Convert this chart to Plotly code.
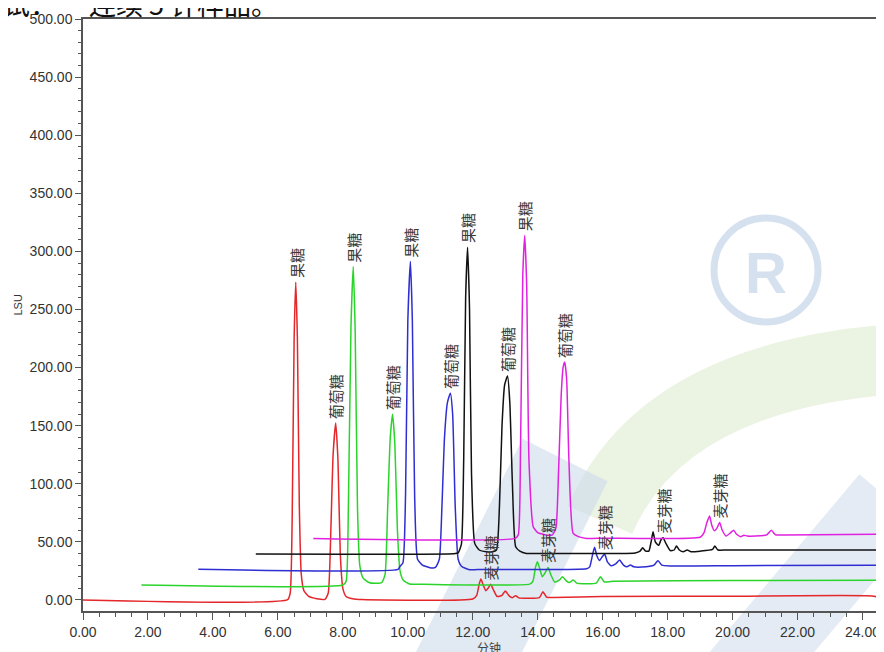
import numpy as np
import plotly.graph_objects as go

# ---------------- data ----------------
red_x = [0, 6.30, 6.38, 6.44, 6.50, 6.55, 6.60, 6.66, 6.72, 6.80, 6.95, 7.20, 7.45, 7.55, 7.63, 7.70, 7.78,
         7.85, 7.92, 8.00, 8.10, 8.30, 8.6, 12.0, 12.12, 12.20, 12.25, 12.32, 12.40, 12.47, 12.55, 12.63,
         12.75, 12.90, 13.00, 13.12, 13.22, 13.32, 13.42, 13.6, 14.05, 14.16, 14.27, 14.5, 16, 20, 24.3, 24.66]
red_y = [0, 0.3, 6, 70, 225, 273.5, 225, 80, 22, 8, 3, 1, 0.5, 6, 60, 125, 152.3,
         120, 40, 10, 3, 1, 0.3, 0.8, 4, 14, 18, 13, 8, 10, 13.5, 9,
         3, 4, 7.7, 3.5, 2, 3.7, 1.8, 1.5, 2, 7.1, 2.5, 2.2, 3, 3.3, 3.5, 1]

green_x = [1.80, 8.0, 8.10, 8.17, 8.25, 8.32, 8.38, 8.45, 8.52, 8.62, 8.80, 9.04, 9.20, 9.30, 9.38, 9.46,
           9.53, 9.60, 9.68, 9.76, 9.86, 10.06, 10.5, 13.75, 13.85, 13.93, 13.99, 14.06, 14.14, 14.22, 14.32,
           14.40, 14.52, 14.66, 14.76, 14.88, 14.98, 15.09, 15.20, 15.40, 15.80, 15.93, 16.05, 16.3, 20, 24.66]
green_y = [12.9, 12.9, 16, 80, 235, 287, 230, 80, 30, 19, 15, 14.3, 15, 22, 80, 140,
           159.8, 135, 60, 25, 17, 13.7, 13.5, 13.6, 16, 28, 32.9, 27, 20, 23, 28,
           22, 15.5, 17, 20, 16.5, 15, 17.2, 14.5, 14, 14.5, 20, 15.5, 16, 16.8, 17]

blue_x = [3.55, 9.70, 9.76, 9.85, 9.93, 10.00, 10.08, 10.14, 10.21, 10.30, 10.45, 10.68, 10.85, 10.97, 11.05,
          11.13, 11.22, 11.31, 11.38, 11.46, 11.55, 11.65, 11.90, 12.3, 15.5, 15.6, 15.68, 15.75, 15.82, 15.90,
          15.98, 16.06, 16.14, 16.26, 16.40, 16.52, 16.64, 16.75, 16.85, 16.96, 17.2, 17.58, 17.70, 17.82,
          18.1, 20, 24.66]
blue_y = [26.4, 26.4, 29, 32, 90, 240, 291.5, 240, 90, 35, 30, 27.8, 28, 35, 80,
          140, 170, 178, 160, 80, 35, 29, 26, 26.3, 26.8, 28.5, 38, 45.3, 38, 34,
          37, 39.5, 33, 29.5, 31, 34.4, 30, 28.5, 30, 28.5, 28.3, 30, 33.8, 30,
          29.3, 29.5, 30]

black_x = [5.32, 11.40, 11.55, 11.65, 11.72, 11.78, 11.84, 11.90, 11.96, 12.06, 12.20, 12.42, 12.60, 12.73,
           12.82, 12.90, 12.98, 13.07, 13.14, 13.22, 13.32, 13.45, 13.65, 14.0, 17.0, 17.15, 17.23, 17.32,
           17.42, 17.49, 17.55, 17.62, 17.72, 17.80, 17.86, 17.94, 18.08, 18.20, 18.27, 18.36, 18.48, 18.60,
           18.72, 19.0, 19.38, 19.45, 19.55, 19.8, 21, 24.66]
black_y = [39.5, 39.8, 40.5, 48, 120, 260, 303.5, 250, 110, 48.7, 43, 41.5, 41.5, 43,
           80, 150, 185, 192.7, 170, 100, 45.8, 42, 40, 40, 40.5, 42, 45, 42,
           42, 50, 58.7, 50, 47, 52, 53.5, 49, 42.5, 43, 46.4, 43, 41.5, 43,
           41.5, 42, 43.5, 46.4, 43, 43, 43, 43]

magenta_x = [7.09, 13.30, 13.40, 13.47, 13.54, 13.60, 13.66, 13.73, 13.86, 14.00, 14.27, 14.45, 14.56, 14.64,
             14.72, 14.78, 14.83, 14.89, 14.96, 15.09, 15.25, 15.50, 16, 19.0, 19.12, 19.20, 19.29, 19.36,
             19.44, 19.52, 19.60, 19.68, 19.80, 19.94, 20.03, 20.12, 20.25, 20.35, 20.45, 20.7, 21.05, 21.19,
             21.32, 21.6, 24.66]
magenta_y = [53, 53, 56, 130, 280, 313.6, 270, 120, 63, 58, 55.8, 56, 62, 110,
             175, 200, 204.7, 190, 120, 57.3, 54.5, 53, 53.2, 54, 58, 66, 72.2, 64,
             59.5, 62, 66.7, 60, 55, 58, 60.1, 56.5, 54.5, 55.8, 55, 55, 56, 60.1,
             56, 56, 56.5]

trace_colors = ["#e3272b", "#2bd42b", "#2e2ed2", "#111111", "#e022e0"]

# peak labels: (trace index, retention time, name)
label_trace = [0, 0, 0, 1, 1, 1, 2, 2, 2, 3, 3, 3, 4, 4, 4]
label_time = [6.55, 7.78, 12.55, 8.32, 9.53, 14.32, 10.08, 11.31, 16.06, 11.84, 13.07, 17.86, 13.60, 14.83, 19.60]
label_name = ["果糖", "葡萄糖", "麦芽糖"] * 5

x_ticks = [0, 2, 4, 6, 8, 10, 12, 14, 16, 18, 20, 22, 24]
x_tick_text = ["%.2f" % v for v in x_ticks]

# ---------------- figure ----------------
# the page has an 8px body margin, so the figure is shifted by (8, 8)
OFF = 8
W, H = 884 - OFF, 652 - OFF
ML, MR, MT, MB = 83 - OFF, 0, 19 - OFF, 41
PW, PH = W - ML - MR, H - MT - MB
PLOT_LEFT, PLOT_BOTTOM = 83, 611  # page pixels


def px(xp):
    return (xp - PLOT_LEFT) / PW


def py(yp):
    return (PLOT_BOTTOM - yp) / PH


series = [(red_x, red_y), (green_x, green_y), (blue_x, blue_y), (black_x, black_y), (magenta_x, magenta_y)]

fig = go.Figure()
for (sx, sy), c in zip(series, trace_colors):
    fig.add_trace(go.Scatter(x=sx, y=sy, mode="lines", line=dict(color=c, width=1.5, shape="spline", smoothing=0.5),
                             hoverinfo="skip", showlegend=False))

annotations = []
for ti, t, name in zip(label_trace, label_time, label_name):
    sx, sy = series[ti]
    yv = float(np.interp(t, sx, sy))
    annotations.append(dict(x=t, y=yv, xref="x", yref="y", text=name, showarrow=False,
                            textangle=-90, xanchor="center", yanchor="bottom", yshift=2,
                            font=dict(family="Noto Sans CJK SC", size=15, color="#3a3a3a")))

# title line cut at the top of the picture (two pieces, the gap between them kept)
title_font = dict(family="Noto Sans CJK SC", size=27, color="#111111")
annotations.append(dict(x=px(-26), y=py(3), xref="paper", yref="paper", text="测试：",
                        showarrow=False, xanchor="left", yanchor="middle", font=title_font))
annotations.append(dict(x=px(87), y=py(3), xref="paper", yref="paper", text="连续 5 针样品。",
                        showarrow=False, xanchor="left", yanchor="middle", font=title_font))
# axis titles
annotations.append(dict(x=px(17.5), y=py(305), xref="paper", yref="paper", text="LSU",
                        showarrow=False, textangle=-90, xanchor="center", yanchor="middle",
                        font=dict(family="Liberation Sans", size=11, color="#333333")))
annotations.append(dict(x=px(489), y=py(647), xref="paper", yref="paper", text="分钟",
                        showarrow=False, xanchor="center", yanchor="middle",
                        font=dict(family="Noto Sans CJK SC", size=12, color="#444444")))
# watermark letter
annotations.append(dict(x=px(766), y=py(272), xref="paper", yref="paper", text="<b>R</b>",
                        showarrow=False, xanchor="center", yanchor="middle",
                        font=dict(family="Liberation Sans", size=58, color="rgba(200,215,235,0.75)")))

# faint watermark decoration (paper coordinates, below the traces)
shapes = [
    dict(type="circle", xref="paper", yref="paper", layer="below",
         x0=px(714), x1=px(818), y0=py(322), y1=py(218),
         line=dict(color="rgba(200,215,235,0.75)", width=7)),
    dict(type="path", xref="paper", yref="paper", layer="below",
         path="M %f,%f Q %f,%f %f,%f" % (px(600), py(520), px(660), py(380), px(884), py(360)),
         line=dict(color="rgba(225,236,212,0.65)", width=70)),
    dict(type="path", xref="paper", yref="paper", layer="below",
         path="M %f,%f L %f,%f" % (px(450), py(690), px(565), py(460)),
         line=dict(color="rgba(205,218,235,0.6)", width=95)),
    dict(type="path", xref="paper", yref="paper", layer="below",
         path="M %f,%f L %f,%f" % (px(730), py(690), px(890), py(500)),
         line=dict(color="rgba(205,218,235,0.55)", width=80)),
]

fig.update_layout(
    width=W, height=H,
    margin=dict(l=ML, r=MR, t=MT, b=MB, autoexpand=False),
    paper_bgcolor="white", plot_bgcolor="rgba(0,0,0,0)",
    annotations=annotations, shapes=shapes,
    showlegend=False,
)
fig.update_xaxes(range=[0, 24.66], tickvals=x_ticks, ticktext=x_tick_text,
                 showline=True, linecolor="#555555", linewidth=1.5, mirror=True,
                 ticks="outside", ticklen=7, tickwidth=1.2, tickcolor="#555555",
                 minor=dict(dtick=0.5, ticklen=4, ticks="outside", tickcolor="#555555", tickwidth=1),
                 showgrid=False, zeroline=False,
                 tickfont=dict(family="Liberation Sans", size=14, color="#333333"))
fig.update_yaxes(range=[-9.5, 500], tick0=0, dtick=50, tickformat=".2f",
                 showline=True, linecolor="#555555", linewidth=1.5, mirror=False,
                 ticks="outside", ticklen=6, tickwidth=1.2, tickcolor="#555555",
                 minor=dict(dtick=10, ticklen=3, ticks="outside", tickcolor="#555555", tickwidth=1),
                 showgrid=False, zeroline=False,
                 tickfont=dict(family="Liberation Sans", size=14, color="#333333"))

fig.write_html("out.html")
